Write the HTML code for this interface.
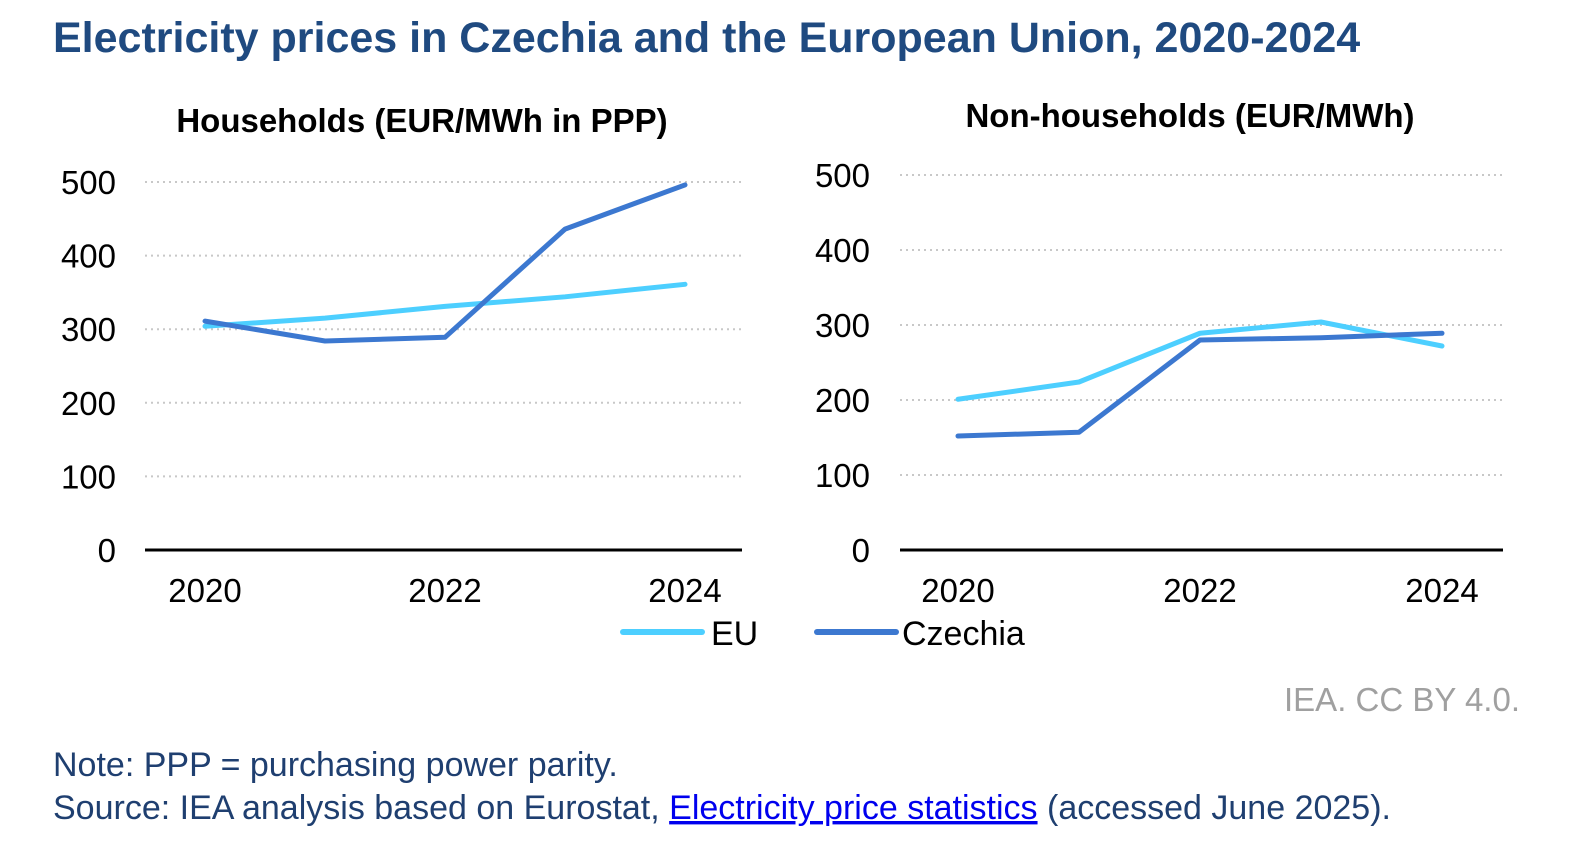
<!DOCTYPE html>
<html><head><meta charset="utf-8"><style>
body{margin:0;width:1594px;height:862px;background:#fff;font-family:"Liberation Sans",sans-serif;overflow:hidden}
</style></head><body>
<svg width="1594" height="862" xmlns="http://www.w3.org/2000/svg" font-family="Liberation Sans, sans-serif">
<text x="53" y="52" font-size="43" font-weight="bold" fill="#1f4a80">Electricity prices in Czechia and the European Union, 2020-2024</text>
<text x="422" y="132" font-size="33" font-weight="bold" text-anchor="middle">Households (EUR/MWh in PPP)</text>
<text x="1190" y="127" font-size="33" font-weight="bold" text-anchor="middle">Non-households (EUR/MWh)</text>
<g id="p1"></g><g id="p2"></g>
<line x1="623" y1="632" x2="702" y2="632" stroke="#4dcfff" stroke-width="6" stroke-linecap="round"/>
<text x="711" y="645" font-size="34">EU</text>
<line x1="817" y1="632" x2="896" y2="632" stroke="#3c78d0" stroke-width="6" stroke-linecap="round"/>
<text x="902" y="645" font-size="34">Czechia</text>
<text x="1520" y="711" font-size="33" fill="#a0a0a0" text-anchor="end">IEA. CC BY 4.0.</text>
<text x="53" y="776" font-size="34" fill="#1f3f70">Note: PPP = purchasing power parity.</text>
<text x="53" y="819" font-size="34" fill="#1f3f70">Source: IEA analysis based on Eurostat, <tspan fill="#0000ee" text-decoration="underline">Electricity price statistics</tspan> (accessed June 2025).</text>
</svg>
<script>
const years=[2020,2021,2022,2023,2024];
const yTicks=[0,100,200,300,400,500];
const xLabels=[2020,2022,2024];
const hhEU=[304,315,331,344,361];
const hhCZ=[311,284,289,436,496];
const nhEU=[201,224,289,304,272];
const nhCZ=[152,157,280,283,289];
const NS="http://www.w3.org/2000/svg";
function mk(g,t,a){const e=document.createElementNS(NS,t);for(const k in a)e.setAttribute(k,a[k]);g.appendChild(e);return e;}
function panel(id,x0,x1,xFirst,step,y0,yTop,labX,eu,cz,pfx){
 const g=document.getElementById(id);
 const ys=v=>y0-(y0-yTop)*v/500, xs=yr=>xFirst+(yr-2020)*step;
 yTicks.forEach(t=>{
  if(t>0){const l=mk(g,'line',{x1:x0,x2:x1,y1:ys(t),y2:ys(t),stroke:'#c8c8c8','stroke-width':2,'stroke-dasharray':'2 4'});
  }
  const tx=mk(g,'text',{x:labX,y:ys(t)+12,'font-size':33,'text-anchor':'end'});tx.textContent=t;
  
 });
 const ax=mk(g,'line',{x1:x0,x2:x1,y1:y0,y2:y0,stroke:'#000','stroke-width':3});
 
 xLabels.forEach(yr=>{const tx=mk(g,'text',{x:xs(yr),y:y0+52,'font-size':33,'text-anchor':'middle'});tx.textContent=yr;
  });
 [[eu,'#4dcfff','eu'],[cz,'#3c78d0','czechia']].forEach(([d,c,n])=>{
  const p=mk(g,'polyline',{points:d.map((v,i)=>xs(years[i])+','+ys(v)).join(' '),fill:'none',stroke:c,'stroke-width':5,'stroke-linecap':'round','stroke-linejoin':'round'});
  });
}
panel('p1',145,742,205,120,550,182,116,hhEU,hhCZ,'households-');
panel('p2',900,1503,958,121,550,175,870,nhEU,nhCZ,'nonhouseholds-');
</script>
</body></html>
